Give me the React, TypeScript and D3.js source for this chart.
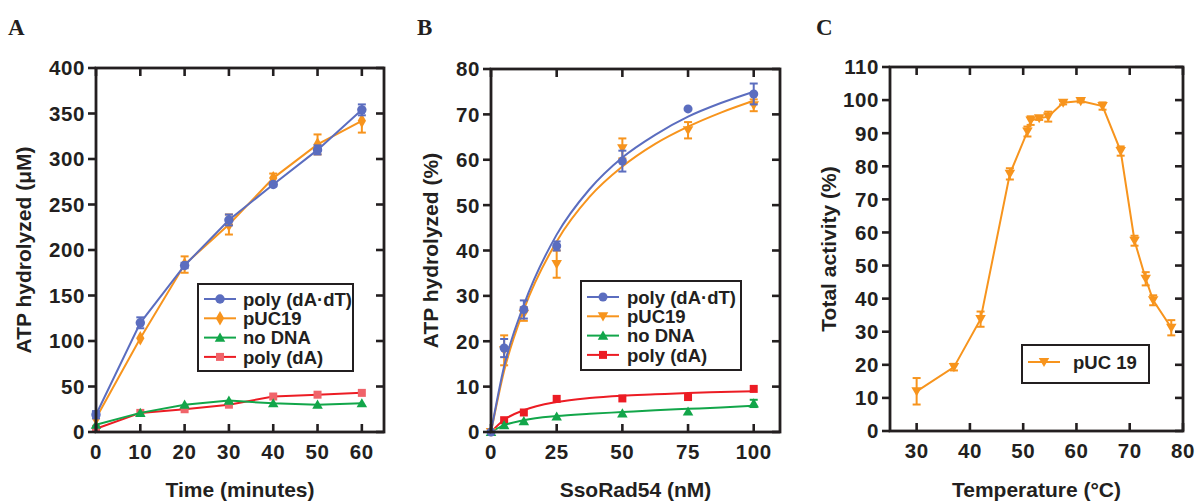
import React from 'react';
import * as d3 from 'd3';

// ---- panel A : ATP hydrolysis over time ----
const timeMin = [0, 10, 20, 30, 40, 50, 60];
const aPolyDAdT = [19, 120, 183, 233, 272, 310, 354];
const aPolyDAdTErr = [4, 6, 3, 6, 2, 5, 6];
const aPUC19 = [15, 103, 184, 228, 279, 316, 342];
const aPUC19Err = [0, 0, 9, 11, 5, 11, 13];
const aNoDNA = [8, 21, 30, 34.5, 31.5, 30, 31.5];
const aPolyDA = [3.5, 21, 25, 30, 39, 41, 43];

// ---- panel B : ATP hydrolysis vs SsoRad54 ----
const rad54nM = [0, 5, 12.5, 25, 50, 75, 100];
const bPolyDAdT = [0, 18.5, 27, 41, 59.7, 71.2, 74.5];
const bPolyDAdTErr = [0, 2, 2, 1, 2.3, 0, 2.3];
const bPUC19 = [0, 18, 26, 37, 62.5, 66.5, 72];
const bPUC19Err = [0, 3.3, 1.5, 3, 2.2, 1.8, 1.3];
const bNoDNA = [0, 1.5, 2.4, 3.4, 4.1, 4.5, 6.3];
const bNoDNAErr = [0, 0, 0, 0, 0, 0, 0.8];
const bPolyDA = [0, 2.6, 4.3, 7.3, 7.4, 7.7, 9.5];
// fitted curves
const fitX = [0, 5, 12.5, 25, 37.5, 50, 62.5, 75, 87.5, 100];
const fitPolyDAdT = [0, 14.5, 28, 43.5, 53.5, 60.5, 65.5, 69.5, 72.5, 75];
const fitPUC19 = [0, 13.5, 27, 42, 51.8, 58.5, 63.5, 67.3, 70.4, 73];
const fitNoDNA = [0, 1.5, 2.6, 3.5, 4.0, 4.4, 4.8, 5.1, 5.4, 5.8];
const fitPolyDA = [0, 2.7, 4.8, 6.6, 7.5, 8.0, 8.3, 8.6, 8.8, 9.0];

// ---- panel C : temperature profile ----
const tempC = [30, 37, 42, 47.5, 50.8, 51.4, 53, 54.7, 57.5, 60.8, 64.9, 68.3, 70.9, 73, 74.4, 77.8];
const cActivity = [12, 19.3, 33.8, 77.7, 90.5, 93.8, 94.5, 95, 99.2, 99.7, 98.2, 84.6, 57.5, 46, 39.5, 31.2];
const cActivityErr = [4, 1, 2.3, 1.7, 1.5, 1.3, 0.5, 1.5, 0.5, 0.4, 1.1, 1.4, 1.5, 2, 1.5, 2.3];

const FONT = 'Liberation Sans, Arial, Helvetica, sans-serif';
const INK = '#231f20';
const BLUE = '#5b6dbf';
const ORANGE = '#f7941d';
const GREEN = '#12a64a';
const RED = '#ec1c24';
const RED_LIGHT = '#f0646a';

const markerPath = (shape, size) => {
  const t = {
    circle: d3.symbolCircle,
    diamond: d3.symbolDiamond,
    up: d3.symbolTriangle,
    down: d3.symbolTriangle,
    square: d3.symbolSquare,
  }[shape];
  return d3.symbol().type(t).size(size)();
};

function Marker({ x, y, shape, color, size }) {
  const rot = shape === 'down' ? ` rotate(180)` : '';
  const dy = shape === 'up' ? 1 : shape === 'down' ? -1 : 0;
  return <path d={markerPath(shape, size)} transform={`translate(${x},${y + dy})${rot}`} fill={color} />;
}

function Panel({ box, xDomain, yDomain, xTicks, yTicks, label, labelX, xTitle, yTitle, yTitleX, series, legend }) {
  const x = d3.scaleLinear().domain(xDomain).range([box.left, box.right]);
  const y = d3.scaleLinear().domain(yDomain).range([box.bottom, box.top]);
  const tl = 8;
  const midY = (box.top + box.bottom) / 2;
  const midX = (box.left + box.right) / 2;

  return (
    <g>
      <text x={labelX} y={35} fontFamily="Liberation Serif, Times New Roman, serif" fontWeight="bold" fontSize={23} fill={INK}>{label}</text>

      {series.map((s, i) => {
        const lx = s.lineX || s.x;
        const ly = s.lineY || s.y;
        const line = d3.line().x((d) => x(d[0])).y((d) => y(d[1])).curve(s.lineX ? d3.curveMonotoneX : d3.curveLinear);
        return (
          <g key={i}>
            <path d={line(lx.map((v, j) => [v, ly[j]]))} fill="none" stroke={s.color} strokeWidth={2} />
            {s.err && s.x.map((v, j) => s.err[j] > 0 ? (
              <g key={j} stroke={s.color} strokeWidth={2}>
                <line x1={x(v)} x2={x(v)} y1={y(s.y[j] - s.err[j])} y2={y(s.y[j] + s.err[j])} />
                <line x1={x(v) - 4} x2={x(v) + 4} y1={y(s.y[j] - s.err[j])} y2={y(s.y[j] - s.err[j])} />
                <line x1={x(v) - 4} x2={x(v) + 4} y1={y(s.y[j] + s.err[j])} y2={y(s.y[j] + s.err[j])} />
              </g>
            ) : null)}
            {s.x.map((v, j) => (
              <Marker key={j} x={x(v)} y={y(s.y[j])} shape={s.shape} color={s.markColor || s.color} size={s.size} />
            ))}
          </g>
        );
      })}

      <rect x={box.left} y={box.top} width={box.right - box.left} height={box.bottom - box.top} fill="none" stroke={INK} strokeWidth={2.8} />
      <g stroke={INK} strokeWidth={2.6}>
        {xTicks.map((t) => (
          <g key={t}>
            <line x1={x(t)} x2={x(t)} y1={box.bottom} y2={box.bottom - tl} />
            <line x1={x(t)} x2={x(t)} y1={box.top} y2={box.top + tl} />
          </g>
        ))}
        {yTicks.map((t) => (
          <g key={t}>
            <line x1={box.left - tl} x2={box.left} y1={y(t)} y2={y(t)} />
            <line x1={box.right - tl} x2={box.right} y1={y(t)} y2={y(t)} />
          </g>
        ))}
      </g>
      <g fontFamily={FONT} fontWeight="bold" fontSize={20.5} fill={INK} letterSpacing={0.6}>
        {xTicks.map((t) => (
          <text key={t} x={x(t)} y={box.bottom + 27} textAnchor="middle">{t}</text>
        ))}
        {yTicks.map((t) => (
          <text key={t} x={box.left - 11} y={y(t)} dy="0.36em" textAnchor="end">{t}</text>
        ))}
      </g>
      <g fontFamily={FONT} fontWeight="bold" fontSize={21} fill={INK} textAnchor="middle">
        <text x={midX} y={497}>{xTitle}</text>
        <text transform={`translate(${yTitleX},${midY}) rotate(-90)`}>{yTitle}</text>
      </g>

      <g>
        <rect x={legend.x} y={legend.y} width={legend.w} height={legend.h} fill="#fff" stroke={INK} strokeWidth={2} />
        {legend.items.map((it, i) => {
          const ry = legend.y + legend.first + i * legend.step;
          return (
            <g key={i}>
              <line x1={legend.x + 6} x2={legend.x + 38} y1={ry} y2={ry} stroke={it.color} strokeWidth={2} />
              <Marker x={legend.x + 22} y={ry} shape={it.shape} color={it.markColor || it.color} size={it.size} />
              <text x={legend.x + legend.textDx} y={ry} dy="0.36em" fontFamily={FONT} fontWeight="bold" fontSize={18.5} fill={INK}>{it.name}</text>
            </g>
          );
        })}
      </g>
    </g>
  );
}

export default function App() {
  const seriesA = [
    { name: 'poly (dA)', x: timeMin, y: aPolyDA, color: RED, markColor: RED_LIGHT, shape: 'square', size: 64 },
    { name: 'no DNA', x: timeMin, y: aNoDNA, color: GREEN, shape: 'up', size: 48 },
    { name: 'pUC19', x: timeMin, y: aPUC19, err: aPUC19Err, color: ORANGE, shape: 'diamond', size: 60 },
    { name: 'poly (dA\u00b7dT)', x: timeMin, y: aPolyDAdT, err: aPolyDAdTErr, color: BLUE, shape: 'circle', size: 70 },
  ];
  const seriesB = [
    { name: 'poly (dA)', x: rad54nM, y: bPolyDA, lineX: fitX, lineY: fitPolyDA, color: RED, shape: 'square', size: 64 },
    { name: 'no DNA', x: rad54nM, y: bNoDNA, err: bNoDNAErr, lineX: fitX, lineY: fitNoDNA, color: GREEN, shape: 'up', size: 48 },
    { name: 'pUC19', x: rad54nM, y: bPUC19, err: bPUC19Err, lineX: fitX, lineY: fitPUC19, color: ORANGE, shape: 'down', size: 48 },
    { name: 'poly (dA\u00b7dT)', x: rad54nM, y: bPolyDAdT, err: bPolyDAdTErr, lineX: fitX, lineY: fitPolyDAdT, color: BLUE, shape: 'circle', size: 64 },
  ];
  const seriesC = [
    { name: 'pUC 19', x: tempC, y: cActivity, err: cActivityErr, color: ORANGE, shape: 'down', size: 48 },
  ];

  return (
    <svg width={1196} height={501} style={{ position: 'absolute', left: 0, top: 0, background: '#fff' }}>
      <Panel
        box={{ left: 96, right: 384, top: 68, bottom: 432 }}
        xDomain={[0, 65]} yDomain={[0, 400]}
        xTicks={d3.range(0, 61, 10)} yTicks={d3.range(0, 401, 50)}
        label="A" labelX={8}
        xTitle="Time (minutes)" yTitle={'ATP hydrolyzed (\u03bcM)'} yTitleX={31}
        series={seriesA}
        legend={{ x: 198, y: 284, w: 155, h: 87, first: 15, step: 19.3, textDx: 45, items: [...seriesA].reverse() }}
      />
      <Panel
        box={{ left: 491, right: 780, top: 69, bottom: 432 }}
        xDomain={[0, 110]} yDomain={[0, 80]}
        xTicks={[0, 25, 50, 75, 100]} yTicks={d3.range(0, 81, 10)}
        label="B" labelX={417}
        xTitle="SsoRad54 (nM)" yTitle="ATP hydrolyzed (%)" yTitleX={438}
        series={seriesB}
        legend={{ x: 581, y: 281, w: 160, h: 89, first: 16, step: 19.3, textDx: 46, items: [...seriesB].reverse() }}
      />
      <Panel
        box={{ left: 890, right: 1183, top: 67, bottom: 431 }}
        xDomain={[25, 80]} yDomain={[0, 110]}
        xTicks={d3.range(30, 81, 10)} yTicks={d3.range(0, 111, 10)}
        label="C" labelX={816}
        xTitle={'Temperature (\u00b0C)'} yTitle="Total activity (%)" yTitleX={836}
        series={seriesC}
        legend={{ x: 1022, y: 345, w: 127, h: 38, first: 17, step: 19, textDx: 51, items: seriesC }}
      />
    </svg>
  );
}
